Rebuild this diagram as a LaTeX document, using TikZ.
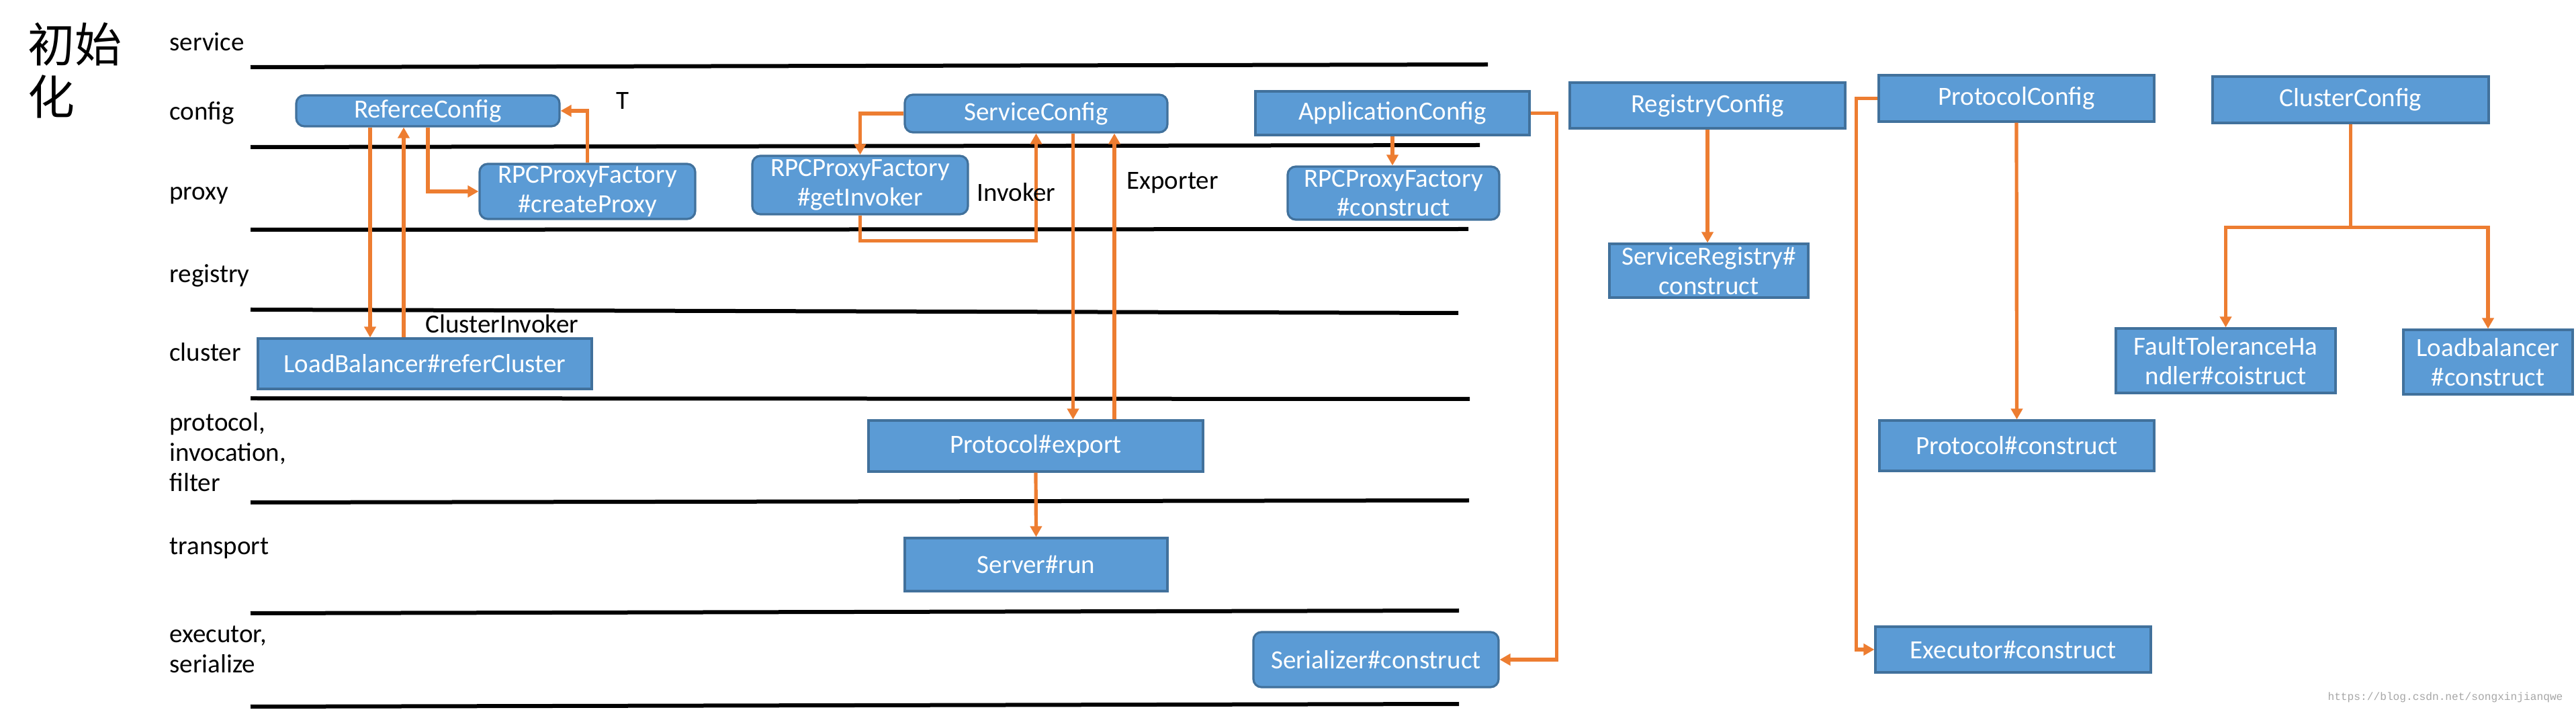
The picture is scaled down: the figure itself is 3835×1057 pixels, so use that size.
\documentclass[tikz,border=0pt]{standalone}
\usepackage{fontspec}
\setmainfont{Carlito}
\newfontfamily\cjkfont{Noto Sans CJK SC}
\newfontfamily\wmfont{Liberation Mono}
\usetikzlibrary{arrows.meta,calc}

\definecolor{boxblue}{RGB}{91,155,213}
\definecolor{boxedge}{RGB}{65,113,156}
\definecolor{flow}{RGB}{237,125,49}

\tikzset{every picture/.style={line width=0.75pt},
  layer/.style={line width=1.5pt},
  box/.style={draw=boxedge,fill=boxblue,text=white,line width=0.8pt,align=center,inner sep=0pt,font=\fontsize{9.75}{10.9}\selectfont},
  rbox/.style={box,rounded corners=3pt},
  lbl/.style={font=\fontsize{9.75}{11.2}\selectfont,inner sep=0pt,align=left},
  arr/.style={draw=flow,line width=1.3pt,-{Triangle[length=4pt,width=4.25pt]}},
}

\begin{document}
\begin{tikzpicture}[x=0.25pt,y=0.25pt,yscale=-1,xscale=1]
\useasboundingbox (0,0) rectangle (3835,1057);

%Straight Lines (layers)
\draw [layer] (373,100) -- (2215,96) ;
\draw [layer] (373,219) -- (2203,216) ;
\draw [layer] (373,342) -- (2186,341) ;
\draw [layer] (373,461) -- (2171,466) ;
\draw [layer] (373,593) -- (2188,594) ;
\draw [layer] (373,748) -- (2187,745) ;
\draw [layer] (373,913) -- (2172,909) ;
\draw [layer] (373,1052) -- (2172,1048) ;

% Text Node
\node [anchor=north west, font=\cjkfont\fontsize{17.5}{19.5}\selectfont, align=left, inner sep=0pt] (title) at (40,32) {初始\\化};
% Text Node
\node [lbl, anchor=base west] (lservice) at (251,76) {service};
\node [lbl, anchor=base west] (lconfig) at (251,178.6) {config};
\node [lbl, anchor=base west] (lproxy) at (251,298) {proxy};
\node [lbl, anchor=base west] (lregistry) at (251,421) {registry};
\node [lbl, anchor=base west] (lcluster) at (251,537.5) {cluster};
\node [lbl, anchor=west] (lprotocol) at (251,673) {protocol,\\invocation,\\filter};
\node [lbl, anchor=base west] (ltransport) at (251,826) {transport};
\node [lbl, anchor=west] (lexecutor) at (251,967) {executor,\\serialize};

%Shape: Rectangle
\node [rbox, minimum width=98pt, minimum height=11.5pt] (ref) at (637,165) {ReferceConfig};
\node [rbox, minimum width=80.25pt, minimum height=20.5pt] (cproxy) at (874.5,285) {RPCProxyFactory\\\#createProxy};
\node [box, minimum width=124.25pt, minimum height=18.75pt] (lb) at (632.5,541.5) {LoadBalancer\#referCluster};
\node [rbox, minimum width=97.75pt, minimum height=14pt] (svc) at (1542.5,169) {ServiceConfig};
\node [rbox, minimum width=80.25pt, minimum height=21.75pt] (ginv) at (1280.5,275.5) {RPCProxyFactory\\\#getInvoker};
\node [box, minimum width=102pt, minimum height=16.25pt] (app) at (2073,168.5) {ApplicationConfig};
\node [rbox, minimum width=78.75pt, minimum height=19.75pt] (cons) at (2074.5,287.5) {RPCProxyFactory\\\#construct};
\node [box, minimum width=124.5pt, minimum height=19pt] (pexp) at (1542,664) {Protocol\#export};
\node [box, minimum width=97.75pt, minimum height=19.75pt] (srv) at (1542.5,840.5) {Server\#run};
\node [rbox, minimum width=91.25pt, minimum height=20.5pt] (ser) at (2048.5,982) {Serializer\#construct};
\node [box, minimum width=102.5pt, minimum height=17pt] (reg) at (2542,157) {RegistryConfig};
\node [box, minimum width=74pt, minimum height=20pt] (sreg) at (2544,403) {ServiceRegistry\#\\construct};
\node [box, minimum width=102.5pt, minimum height=17.25pt] (pcfg) at (3002,146.5) {ProtocolConfig};
\node [box, minimum width=102.75pt, minimum height=17.25pt] (ccfg) at (3499.5,148.5) {ClusterConfig};
\node [box, minimum width=81.75pt, minimum height=24pt] (ft) at (3313.5,537) {FaultToleranceHa\\ndler\#coistruct};
\node [box, minimum width=63pt, minimum height=24pt] (lbc) at (3704,539) {Loadbalancer\\\#construct};
\node [box, minimum width=102.25pt, minimum height=18.75pt] (pcons) at (3002.5,663.5) {Protocol\#construct};
\node [box, minimum width=102.5pt, minimum height=17pt] (exec) at (2997,967) {Executor\#construct};

%Straight Lines (calls)
\coordinate (rd) at ($(ref.south)+(-86,0)$);
\coordinate (ru) at ($(ref.south)+(-36,0)$);
\coordinate (sd) at ($(svc.south)+(55,0)$);
\coordinate (su) at ($(svc.south)+(116.5,0)$);
\draw [arr] (ref.south) |- (cproxy.west);
\draw [arr] (cproxy.north) |- (ref.east);
\draw [arr] (rd) -- (rd |- lb.north);
\draw [arr] (ru |- lb.north) -- (ru);
\draw [arr] (svc.west) -| (ginv.north);
\draw [arr] (ginv.south) -- ++(0,38) -| (svc.south);
\draw [arr] (sd) -- (sd |- pexp.north);
\draw [arr] (su |- pexp.north) -- (su);
\draw [arr] (pexp.south) -- (srv.north);
\draw [arr] (app.south) -- (app.south |- cons.north);
\draw [arr] (app.east) -- ++(39,0) |- (ser.east);
\draw [arr] (reg.south) -- (reg.south |- sreg.north);
\draw [arr] (pcfg.south) -- (pcons.north);
\draw [arr] (pcfg.west) -- ++(-32,0) |- (exec.west);
\draw [arr] (ccfg.south) -- ++(0,154) -| (ft.north);
\draw [arr] (ccfg.south) -- ++(0,154) -| (lbc.north);

% Text Node
\node [lbl, anchor=base west] (tT) at (916,162.5) {T};
\node [lbl, anchor=base west] (tcinv) at (632,496) {ClusterInvoker};
\node [lbl, anchor=base west] (tinv) at (1453,300) {Invoker};
\node [lbl, anchor=base west] (texp) at (1676,282) {Exporter};
% Text Node
\node [anchor=base west, font=\wmfont\fontsize{4.05}{5}\selectfont, text=black!35, inner sep=0pt] (wm) at (3464,1043) {https://blog.csdn.net/songxinjianqwe};

\end{tikzpicture}
\end{document}
